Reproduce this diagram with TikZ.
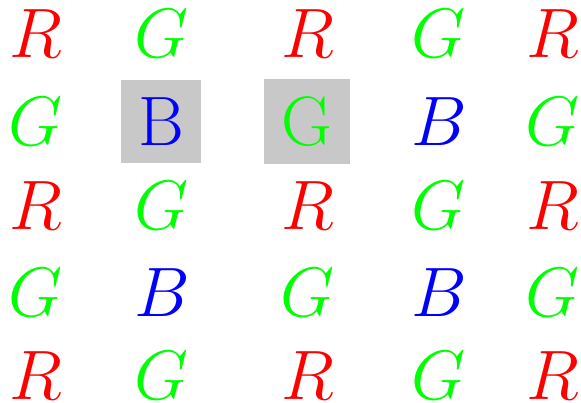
\RequirePackage{fix-cm}
\documentclass[tikz,border=0pt]{standalone}
\definecolor{pr}{RGB}{255,0,0}
\definecolor{pg}{RGB}{0,255,0}
\definecolor{pb}{RGB}{0,0,255}
\definecolor{boxgray}{RGB}{200,200,200}
\tikzset{
  letter/.style={anchor=base, inner sep=0pt, font=\fontsize{70}{84}\selectfont},
  rr/.style={letter, text=pr},
  gg/.style={letter, text=pg},
  bb/.style={letter, text=pb},
  hl/.style={anchor=base, inner sep=17.5pt, fill=boxgray, font=\fontsize{70}{84}\selectfont}
}
\begin{document}
\begin{tikzpicture}[x=1pt,y=-1pt]
\useasboundingbox (0,0) rectangle (581,402);
% row 1
\node[rr] (a1) at (36,57) {$R$};
\node[gg] (a2) at (162,57) {$G$};
\node[rr] (a3) at (308,57) {$R$};
\node[gg] (a4) at (439,57) {$G$};
\node[rr] (a5) at (553,57) {$R$};
% row 2
\node[gg] (b1) at (36,145) {$G$};
\node[hl, text=pb] (b2) at (161,145.5) {B};
\node[hl, text=pg] (b3) at (307,145.5) {G};
\node[bb] (b4) at (439,145) {$B$};
\node[gg] (b5) at (553,145) {$G$};
% row 3
\node[rr] (c1) at (36,229) {$R$};
\node[gg] (c2) at (162,229) {$G$};
\node[rr] (c3) at (308,229) {$R$};
\node[gg] (c4) at (439,229) {$G$};
\node[rr] (c5) at (553,229) {$R$};
% row 4
\node[gg] (d1) at (36,316) {$G$};
\node[bb] (d2) at (162,316) {$B$};
\node[gg] (d3) at (308,316) {$G$};
\node[bb] (d4) at (439,316) {$B$};
\node[gg] (d5) at (553,316) {$G$};
% row 5
\node[rr] (e1) at (36,399) {$R$};
\node[gg] (e2) at (162,399) {$G$};
\node[rr] (e3) at (308,399) {$R$};
\node[gg] (e4) at (439,399) {$G$};
\node[rr] (e5) at (553,399) {$R$};
\end{tikzpicture}
\end{document}
